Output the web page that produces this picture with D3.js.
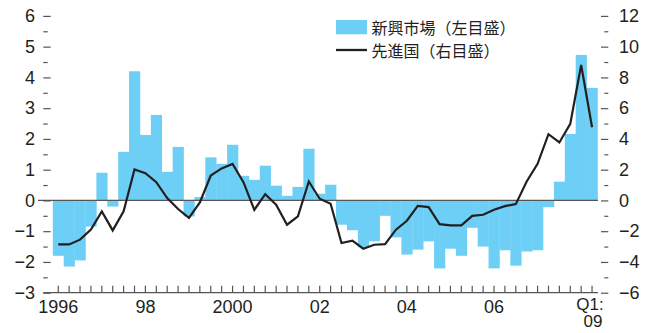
<!DOCTYPE html>
<html>
<head>
<meta charset="utf-8">
<script src="https://cdn.jsdelivr.net/npm/d3@7"></script>
<style>
  body { margin: 0; background: #fff; }
  svg { display: block; font-family: 'Noto Sans', sans-serif; }
</style>
</head>
<body>
<svg width="649" height="333"></svg>
<script>
// emerging markets (bars, left scale)
const emerging = [
  -1.8, -2.15, -1.95, -0.85, 0.9, -0.2, 1.58, 4.2,
  2.13, 2.78, 0.93, 1.74, -0.52, 0.11, 1.4, 1.19,
  1.81, 0.8, 0.67, 1.13, 0.48, 0.15, 0.44, 1.68,
  0.22, 0.51, -0.79, -0.97, -1.52, -1.33, -0.5, -1.2,
  -1.76, -1.6, -1.33, -2.21, -1.57, -1.8, -0.89, -1.5,
  -2.21, -1.62, -2.12, -1.66, -1.62, -0.22, 0.61, 2.16,
  4.73, 3.66
];
// advanced economies (line, right scale)
const advanced = [
  -2.86, -2.86, -2.55, -1.9, -0.71, -1.95, -0.71, 2.01,
  1.77, 1.19, 0.15, -0.56, -1.13, -0.13, 1.62, 2.08,
  2.37, 1.19, -0.61, 0.41, -0.28, -1.58, -1.04, 1.23,
  0.11, -0.22, -2.77, -2.62, -3.14, -2.88, -2.84, -1.9,
  -1.32, -0.35, -0.43, -1.54, -1.62, -1.62, -1.0, -0.93,
  -0.61, -0.37, -0.24, 1.23, 2.38, 4.31, 3.77, 4.98,
  8.81, 4.76
];
const periods = emerging.map((d, i) => i);
const labelIdx = [0, 8, 16, 24, 32, 40, 49];
const labelText = ['1996', '98', '2000', '02', '04', '06', 'Q1:|09'];
const leftTicks = [-3, -2, -1, 0, 1, 2, 3, 4, 5, 6];
const rightTicks = [-6, -4, -2, 0, 2, 4, 6, 8, 10, 12];
const legendNames = ['新興市場（左目盛）', '先進国（右目盛）'];

const svg = d3.select('svg');
const ink = '#231f20';
const tickCol = '#555';

let margin = { left: 43.3, right: 598, top: 15.9, bottom: 292.7 };

let x = d3.scaleBand()
  .domain(periods)
  .range([52.8, 597.5])
  .padding(0);

let yL = d3.scaleLinear().domain([-3, 6]).range([margin.bottom, margin.top]);
let yR = d3.scaleLinear().domain([-6, 12]).range([margin.bottom, margin.top]);

// bars
svg.append('g')
  .attr('fill', '#6dcff6')
  .selectAll('rect').data(emerging).enter().append('rect')
  .attr('x', (d, i) => x(i))
  .attr('y', d => yL(Math.max(0, d)))
  .attr('width', x.bandwidth() + 0.3)
  .attr('height', d => Math.abs(yL(d) - yL(0)));

// zero line
svg.append('line')
  .attr('x1', 38).attr('x2', margin.right)
  .attr('y1', yL(0)).attr('y2', yL(0))
  .attr('stroke', tickCol).attr('stroke-width', 1.3);

// line series
let line = d3.line()
  .x((d, i) => x(i) + x.bandwidth() / 2)
  .y(d => yR(d));

svg.append('path')
  .datum(advanced)
  .attr('fill', 'none')
  .attr('stroke', ink)
  .attr('stroke-width', 2.2)
  .attr('stroke-linejoin', 'miter')
  .attr('d', line);

// x axis
let xAxis = d3.axisBottom(x)
  .tickSize(-7)
  .tickPadding(7.8)
  .tickFormat(i => {
    let k = labelIdx.indexOf(i);
    return k < 0 ? '' : labelText[k];
  });

let gx = svg.append('g')
  .attr('transform', `translate(0,${margin.bottom})`)
  .call(xAxis);
gx.select('.domain').remove();
gx.append('line')
  .attr('x1', margin.left).attr('x2', margin.right)
  .attr('stroke', tickCol).attr('stroke-width', 1.3);
gx.selectAll('.tick line').attr('stroke', tickCol).attr('stroke-width', 1.2);
gx.selectAll('.tick text')
  .attr('fill', ink)
  .style('font-size', '18px')
  .each(function(d) {
    let t = d3.select(this);
    let s = t.text();
    if (s.includes('|')) {
      // two-line label, packed a little tighter to stay inside the frame
      let parts = s.split('|');
      t.text(parts[0]).attr('x', -2).attr('y', 5.5).style('font-size', '17px');
      t.append('tspan').attr('x', 1).attr('dy', '0.98em').text(parts[1]);
    }
  });

// y axes: major + minor ticks
function fmt(v) { return v < 0 ? '\u2212' + Math.abs(v) : String(v); }

let minorL = d3.range(-3, 6.01, 0.5).filter(v => !Number.isInteger(v));
let gyLm = svg.append('g').attr('transform', `translate(${margin.left + 4.4},0)`)
  .call(d3.axisLeft(yL).tickValues(minorL).tickSize(4.4).tickFormat(''));
let gyL = svg.append('g').attr('transform', `translate(${margin.left + 7.4},0)`)
  .call(d3.axisLeft(yL).tickValues(leftTicks).tickSize(7.4).tickPadding(8.2).tickFormat(fmt));

let minorR = d3.range(-6, 12.01, 1).filter(v => v % 2 !== 0);
let gyRm = svg.append('g').attr('transform', 'translate(604.3,0)')
  .call(d3.axisRight(yR).tickValues(minorR).tickSize(4).tickFormat(''));
let gyR = svg.append('g').attr('transform', 'translate(601,0)')
  .call(d3.axisRight(yR).tickValues(rightTicks).tickSize(7.3).tickPadding(10.7).tickFormat(fmt));

[gyLm, gyL, gyRm, gyR].forEach(g => {
  g.select('.domain').remove();
  g.selectAll('.tick line').attr('stroke', tickCol).attr('stroke-width', 1.2);
  g.selectAll('.tick text').attr('fill', ink).style('font-size', '18px');
});

// legend
let legend = svg.append('g')
  .style('font-family', "'Noto Sans CJK JP', sans-serif")
  .style('font-size', '16px');
legend.append('rect')
  .attr('x', 336).attr('y', 20).attr('width', 31).attr('height', 14.3)
  .attr('fill', '#6dcff6');
legend.append('line')
  .attr('x1', 336).attr('x2', 367).attr('y1', 50).attr('y2', 50)
  .attr('stroke', ink).attr('stroke-width', 2.3);
legend.selectAll('text').data(legendNames).enter().append('text')
  .attr('x', 371.5)
  .attr('y', (d, i) => 27.2 + i * 23)
  .attr('dominant-baseline', 'central')
  .attr('fill', ink)
  .text(d => d);
</script>
</body>
</html>
